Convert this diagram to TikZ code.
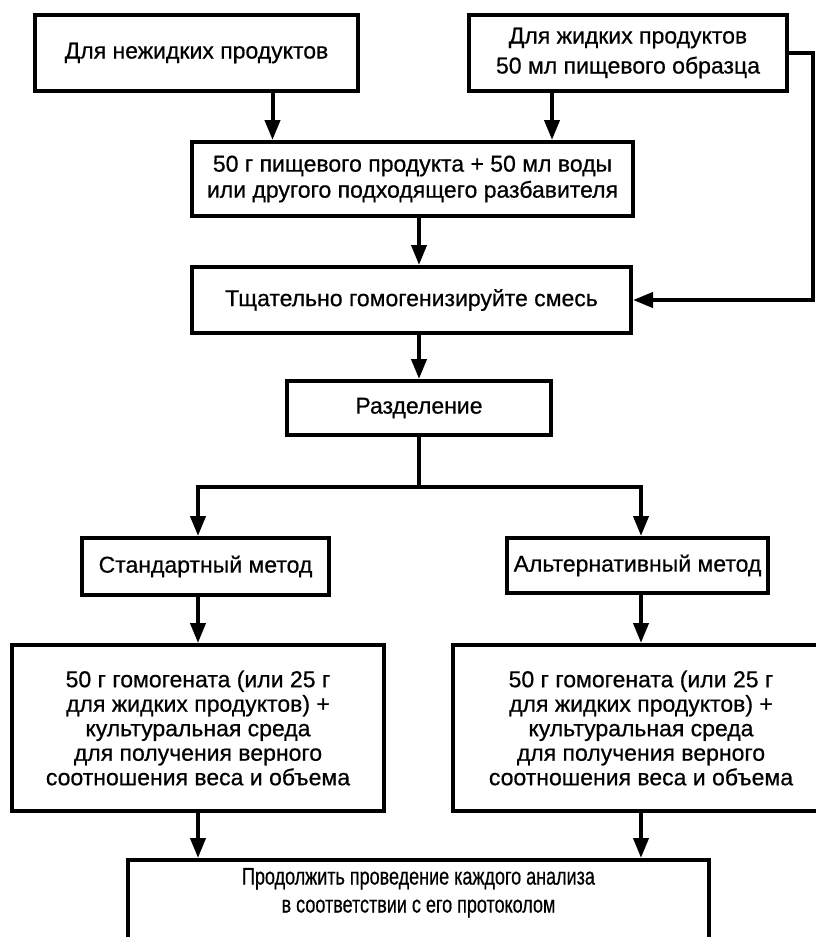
\documentclass[tikz,border=0pt]{standalone}
\usepackage{fontspec}
\setmainfont[FakeBold=0.6]{Liberation Sans}
\newfontfamily\narrowfont[FakeStretch=0.75, FakeBold=0.6]{Liberation Sans}
\usetikzlibrary{arrows.meta}

\begin{document}
\begin{tikzpicture}[x=1pt, y=-1pt,
        box/.style={draw, line width=4pt, align=center, inner sep=0pt,
            font=\fontsize{23}{26}\selectfont},
        link/.style={line width=4pt},
        arr/.style={link, -{Triangle[length=20pt, width=15pt]}}]
        \useasboundingbox (0,0) rectangle (816,937);
        \clip (0,0) rectangle (816,937);

        % Draw the boxes
        \node[box, minimum width=323pt, minimum height=76pt] (nonliq) at (196.5,53) {Для нежидких продуктов};
        \node[box, minimum width=318pt, minimum height=76pt,
            font=\fontsize{23}{30}\selectfont] (liq) at (628,53) {Для жидких продуктов\\50 мл пищевого образца};
        \node[box, minimum width=441pt, minimum height=74pt] (dil) at (412.5,179) {50 г пищевого продукта + 50 мл воды\\или другого подходящего разбавителя};
        \node[box, minimum width=439pt, minimum height=66pt] (homog) at (411.5,300) {Тщательно гомогенизируйте смесь};
        \node[box, minimum width=264pt, minimum height=54pt] (sep) at (419,408) {Разделение};

        \node[box, minimum width=247pt, minimum height=57pt] (std) at (205.5,566.5) {Стандартный метод};
        \node[box, minimum width=261pt, minimum height=55pt] (alt) at (637.5,565.5) {Альтернативный метод};

        \node[box, minimum width=372pt, minimum height=166pt,
            font=\fontsize{23}{24.5}\selectfont] (stdmed) at (198,728) {50 г гомогената (или 25 г\\для жидких продуктов) +\\культуральная среда\\для получения верного\\соотношения веса и объема};
        \node[box, minimum width=376pt, minimum height=166pt,
            font=\fontsize{23}{24.5}\selectfont] (altmed) at (641,728) {50 г гомогената (или 25 г\\для жидких продуктов) +\\культуральная среда\\для получения верного\\соотношения веса и объема};

        \node[box, minimum width=581pt, anchor=north, inner ysep=8pt, text depth=60pt,
            font=\narrowfont\fontsize{24}{28}\selectfont] (cont) at (418.5,858) {Продолжить проведение каждого анализа\\в соответствии с его протоколом};

        % Connect the boxes with arrows
        \draw[arr] ([xshift=76pt]nonliq.south) -- ([xshift=76pt]nonliq.south |- dil.north);
        \draw[arr] ([xshift=-76pt]liq.south) -- ([xshift=-76pt]liq.south |- dil.north);
        \draw[arr] (liq.east) -- ++(24,0) |- (homog.east);
        \draw[arr] (dil.south -| sep.north) -- (homog.north -| sep.north);
        \draw[arr] (homog.south -| sep.north) -- (sep.north);

        \draw[link] (sep.south) -- ++(0,50) coordinate (fork);
        \draw[arr] (fork) -| (std.north -| stdmed.north);
        \draw[arr] (fork) -| (alt.north -| altmed.north);

        \draw[arr] (std.south -| stdmed.north) -- (stdmed.north);
        \draw[arr] (alt.south -| altmed.north) -- (altmed.north);
        \draw[arr] (stdmed.south) -- (stdmed.south |- cont.north);
        \draw[arr] (altmed.south) -- (altmed.south |- cont.north);
\end{tikzpicture}
\end{document}
